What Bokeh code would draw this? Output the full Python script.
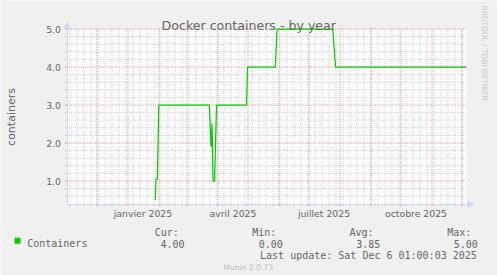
import numpy as np
import pandas as pd
from bokeh.plotting import figure
from bokeh.models import (Range1d, FixedTicker, PrintfTickFormatter, Label,
                          Arrow, NormalHead, BoxAnnotation)
from bokeh.embed import file_html
from bokeh.resources import INLINE

# ---------------- data ----------------
times = ["2025-01-28 08:00", "2025-01-29 01:00", "2025-01-30 08:00", "2025-01-31 20:00",
         "2025-03-23 08:00", "2025-03-25 01:00", "2025-03-26 01:00", "2025-03-27 01:00",
         "2025-03-28 13:00", "2025-03-30 13:00", "2025-04-29 13:00", "2025-04-30 13:00",
         "2025-05-28 08:00", "2025-05-30 01:00", "2025-07-24 18:00", "2025-07-27 13:00",
         "2025-12-05 13:00"]
values = [0.5, 1.05, 1.05, 3.0,
          3.0, 1.9, 2.5, 1.0,
          1.0, 3.0, 3.0, 4.0,
          4.0, 5.0, 5.0, 4.0,
          4.0]
x_start = "2024-11-01 00:00"
x_end = "2025-12-06 00:00"
label_months = ["2025-01-16", "2025-04-16", "2025-07-16", "2025-10-16"]
label_texts = ["janvier 2025", "avril 2025", "juillet 2025", "octobre 2025"]
y_ticks = [1.0, 2.0, 3.0, 4.0, 5.0]
y_minor = [0.6, 0.8, 1.2, 1.4, 1.6, 1.8, 2.2, 2.4, 2.6, 2.8,
           3.2, 3.4, 3.6, 3.8, 4.2, 4.4, 4.6, 4.8]
y_min, y_max = 0.395, 5.0
title_text = "Docker containers - by year"
y_title = "containers"
legend_name = "Containers"
stat_names = ["Cur:", "Min:", "Avg:", "Max:"]
stat_values = ["4.00", "0.00", "3.85", "5.00"]
last_update = "Last update: Sat Dec  6 01:00:03 2025"
footer = "Munin 2.0.73"
watermark = "RRDTOOL / TOBI OETIKER"


def ms(s):
    return pd.Timestamp(s).value / 1e6


x_ms = [ms(t) for t in times]
month_ms = [ms(d) for d in pd.date_range("2024-12-01", "2025-12-01", freq="MS")]
monday_ms = [ms(d) for d in pd.date_range("2024-11-04", "2025-12-01", freq="7D")]
label_ms = [ms(d) for d in label_months]

FONT = "#666666"
AXIS = "#CFD6F8"
L, R, T, B = 66, 31, 28, 72          # plot-area margins in px
W, H = 497, 275
HALF = 0.5                           # half-pixel shift for crisp 1px lines
TICK = 2                             # axis tick length in px
x0, x1 = ms(x_start), ms(x_end)
xpp = (x1 - x0) / (W - L - R)
ypp = (y_max - y_min) / (H - T - B)

p = figure(width=W, height=H, output_backend="svg", toolbar_location=None,
           x_range=Range1d(x0 - (L + HALF) * xpp, x1 + (R - HALF) * xpp),
           y_range=Range1d(y_min - (B - HALF) * ypp, y_max + (T + HALF) * ypp),
           min_border_left=0, min_border_right=0, min_border_top=0, min_border_bottom=0)
p.background_fill_color = "#F0F0F0"
p.border_fill_color = "#F0F0F0"
p.outline_line_color = None
p.xgrid.visible = False
p.ygrid.visible = False

# white canvas of the graph
p.add_layout(BoxAnnotation(left=x0, right=x1, bottom=y_min, top=y_max,
                           fill_color="white", fill_alpha=1.0, line_color=None,
                           level="underlay"))

# grid lines (dotted) and small axis ticks
MINOR = dict(line_color="#8F8F8F", line_alpha=0.42, line_width=1)
MAJOR = dict(line_color="#DE5151", line_alpha=0.6, line_width=1)
nw, nm, ny, nY = len(monday_ms), len(month_ms), len(y_minor), len(y_ticks)
p.segment(x0=monday_ms, y0=[y_min] * nw, x1=monday_ms, y1=[y_max] * nw, line_dash="1 1", **MINOR)
p.segment(x0=[x0] * ny, y0=y_minor, x1=[x1] * ny, y1=y_minor, line_dash="1 1", **MINOR)
p.segment(x0=month_ms, y0=[y_min] * nm, x1=month_ms, y1=[y_max] * nm, line_dash="1 1", **MAJOR)
p.segment(x0=[x0] * nY, y0=y_ticks, x1=[x1] * nY, y1=y_ticks, line_dash="1 1", **MAJOR)
p.segment(x0=monday_ms, y0=[y_min] * nw, x1=monday_ms, y1=[y_min - TICK * ypp] * nw, **MINOR)
p.segment(x0=month_ms, y0=[y_min] * nm, x1=month_ms, y1=[y_min - TICK * ypp] * nm, **MAJOR)
p.segment(x0=[x0] * ny, y0=y_minor, x1=[x0 - TICK * xpp] * ny, y1=y_minor, **MINOR)
p.segment(x0=[x0] * nY, y0=y_ticks, x1=[x0 - TICK * xpp] * nY, y1=y_ticks, **MAJOR)

# axes placed at the plot-area edges
xa = p.xaxis[0]
xa.fixed_location = y_min
xa.bounds = (x0, x1)
xa.ticker = FixedTicker(ticks=label_ms)
xa.major_label_overrides = {v: t for v, t in zip(label_ms, label_texts)}
ya = p.yaxis[0]
ya.fixed_location = x0
ya.bounds = (y_min, y_max)
ya.ticker = FixedTicker(ticks=y_ticks)
ya.formatter = PrintfTickFormatter(format="%.1f")
for a in (xa, ya):
    a.axis_line_color = AXIS
    a.major_tick_line_color = None
    a.minor_tick_line_color = None
    a.major_tick_out = 0
    a.major_tick_in = 0
    a.minor_tick_out = 0
    a.minor_tick_in = 0
    a.major_label_text_font = "DejaVu Sans"
    a.major_label_text_font_size = "9.3px"
    a.major_label_text_color = FONT
xa.major_label_standoff = 4
ya.major_label_standoff = 6
ya.axis_label = y_title
ya.axis_label_text_font = "DejaVu Sans"
ya.axis_label_text_font_size = "11px"
ya.axis_label_text_font_style = "normal"
ya.axis_label_text_color = FONT
ya.axis_label_standoff = 26

# data line
p.line(x=x_ms, y=values, line_color="#00CC00", line_width=1.25)


def sx(px):
    return px


def sy(py):
    return H - py


# arrows on the axes
head = dict(size=6, fill_color=AXIS, line_color=AXIS)
p.add_layout(Arrow(end=NormalHead(**head), x_start=sx(L + HALF), y_start=sy(T), x_end=sx(L + HALF),
                   y_end=sy(T - 6), start_units="screen", end_units="screen", line_color=AXIS))
p.add_layout(Arrow(end=NormalHead(**head), x_start=sx(W - R), y_start=sy(H - B + HALF),
                   x_end=sx(W - R + 7), y_end=sy(H - B + HALF),
                   start_units="screen", end_units="screen", line_color=AXIS))


def lab(text, x, y, size, font="DejaVu Sans", color=FONT, align="left", angle=0.0):
    p.add_layout(Label(text=text, x=sx(x), y=sy(y), x_units="screen", y_units="screen",
                       text_font=font, text_font_size=size, text_color=color,
                       text_align=align, text_baseline="alphabetic", angle=angle))


lab(title_text, 248.3, 24.7, "12.6px", align="center")
lab(watermark, 484, 5, "7.4px", color="#C8C8C8", angle=-np.pi / 2)
MONO = "DejaVu Sans Mono"
lab(legend_name, 26.7, 243.3, "10px", font=MONO)
name_x = [154.3, 251.7, 349.0, 446.7]
val_x = [160.0, 258.3, 355.7, 453.3]
for n, v, nx, vx in zip(stat_names, stat_values, name_x, val_x):
    lab(n, nx, 231.7, "10px", font=MONO)
    lab(v, vx, 243.3, "10px", font=MONO)
lab(last_update, 482.3, 255.0, "10px", font=MONO, align="right")
lab(footer, 223.0, 267.0, "7.6px", color="#BBBBBB")

p.add_layout(BoxAnnotation(left=sx(14), right=sx(20), bottom=sy(243.3), top=sy(237.3),
                           left_units="screen", right_units="screen",
                           bottom_units="screen", top_units="screen",
                           fill_color="#00CC00", fill_alpha=1.0, line_color=None))

open("out.html", "w").write(file_html(p, INLINE))
